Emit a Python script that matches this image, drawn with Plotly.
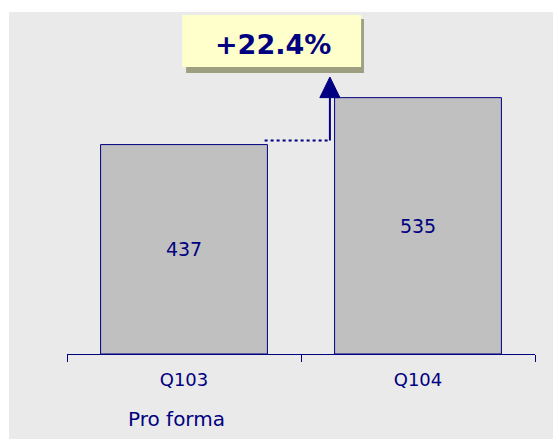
import plotly.graph_objects as go

# Quarterly values
quarters = ["Q103", "Q104"]
values = [437, 535]
subtitle = "Pro forma"

NAVY = "#000080"
BAR_FILL = "#C0C0C0"
PANEL = "#EAEAEA"
BOX_FILL = "#FFFFCC"
BOX_SHADOW = "#9E9E80"
FONT = "DejaVu Sans"

growth = (values[1] / values[0] - 1) * 100
growth_text = f"+{growth:.1f}%"

bar_width = 0.713
y_max = 713.7

fig = go.Figure()
fig.add_trace(go.Bar(
    x=quarters,
    y=values,
    width=bar_width,
    marker=dict(color=BAR_FILL, line=dict(color=NAVY, width=1)),
    text=[str(v) for v in values],
    textposition="inside",
    insidetextanchor="middle",
    textfont=dict(family=FONT, size=19, color=NAVY),
    textangle=0,
    hoverinfo="skip",
))

# Growth arrow: dotted run from the first bar's level to a riser next to the second bar
x_arrow = 1 - bar_width / 2 - 0.02
y_start = values[0] + 8.5
head_w = 0.043
head_h = 43

shapes = [
    # panel background
    dict(type="rect", xref="paper", yref="paper", x0=-0.124, x1=1.2, y0=-0.4, y1=1.0,
         fillcolor=PANEL, line=dict(width=0), layer="below"),
    # dotted horizontal connector
    dict(type="line", xref="x", yref="y", x0=bar_width / 2 - 0.012, x1=x_arrow,
         y0=y_start, y1=y_start, line=dict(color=NAVY, width=2, dash="dot")),
    # vertical riser
    dict(type="line", xref="x", yref="y", x0=x_arrow, x1=x_arrow,
         y0=y_start, y1=values[1], line=dict(color=NAVY, width=2)),
    # arrowhead
    dict(type="path", xref="x", yref="y",
         path=f"M {x_arrow - head_w} {values[1]} L {x_arrow + head_w} {values[1]} "
              f"L {x_arrow} {values[1] + head_h} Z",
         fillcolor=NAVY, line=dict(color=NAVY, width=1)),
    # callout shadow
    dict(type="rect", xref="x", yref="y", x0=0.009, x1=0.769, y0=586.6, y1=699,
         fillcolor=BOX_SHADOW, line=dict(width=0)),
    # callout box
    dict(type="rect", xref="x", yref="y", x0=-0.008, x1=0.757, y0=598.9, y1=707.4,
         fillcolor=BOX_FILL, line=dict(width=0)),
]

annotations = [
    dict(x=0.381, y=646, xref="x", yref="y", text=f"<b>{growth_text}</b>",
         showarrow=False, font=dict(family="DejaVu Sans", size=27, color=NAVY),
         xanchor="center", yanchor="middle"),
    dict(x=-0.03, y=-0.19, xref="x", yref="paper", text=subtitle, showarrow=False,
         font=dict(family=FONT, size=20, color=NAVY), xanchor="center", yanchor="middle"),
]

fig.update_layout(
    width=553,
    height=439,
    margin=dict(l=67, r=18, t=12, b=85),
    paper_bgcolor="white",
    plot_bgcolor="rgba(0,0,0,0)",
    showlegend=False,
    shapes=shapes,
    annotations=annotations,
    xaxis=dict(
        type="category",
        range=[-0.5, 1.5],
        showline=True,
        linecolor=NAVY,
        linewidth=1,
        ticks="outside",
        tickson="boundaries",
        ticklen=7,
        tickwidth=1,
        tickcolor=NAVY,
        showgrid=False,
        tickfont=dict(family=FONT, size=18, color=NAVY),
        ticklabelstandoff=9,
    ),
    yaxis=dict(visible=False, range=[0, y_max], fixedrange=True),
)

fig.write_html("out.html")
